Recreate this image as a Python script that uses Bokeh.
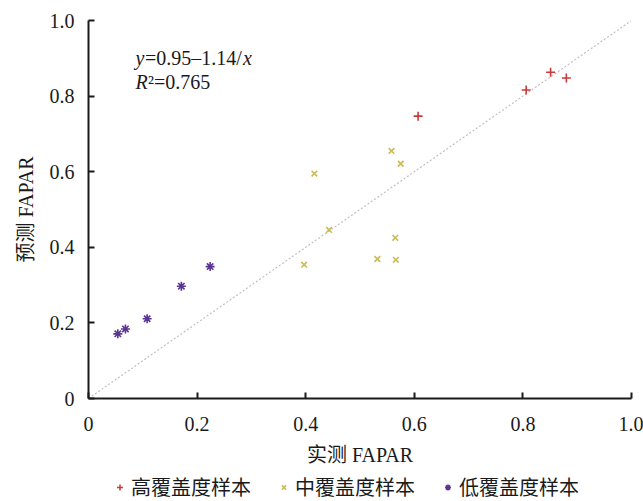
from bokeh.plotting import figure
from bokeh.models import Range1d, FixedTicker, Label, Legend, LegendItem
from bokeh.layouts import column
from bokeh.embed import file_html
from bokeh.resources import INLINE

# data
high_x = [0.607, 0.806, 0.851, 0.880]
high_y = [0.747, 0.816, 0.863, 0.848]
mid_x = [0.558, 0.575, 0.416, 0.443, 0.565, 0.532, 0.566, 0.397]
mid_y = [0.655, 0.621, 0.595, 0.446, 0.425, 0.369, 0.367, 0.354]
low_x = [0.054, 0.068, 0.108, 0.171, 0.224]
low_y = [0.171, 0.184, 0.211, 0.297, 0.349]
ref_line = [0.0, 1.0]
ticks = [0, 0.2, 0.4, 0.6, 0.8, 1.0]
series_names = ["高覆盖度样本", "中覆盖度样本", "低覆盖度样本"]
colors = ["#c83a3a", "#c9bb55", "#5b3592"]
markers = ["cross", "x", "asterisk"]
series_x = [high_x, mid_x, low_x]
series_y = [high_y, mid_y, low_y]

SERIF = "'Liberation Serif', 'Noto Sans CJK SC'"
TXT = "#1a1a1a"

p = figure(width=643, height=477, output_backend="svg", toolbar_location=None,
           x_range=Range1d(0, 1), y_range=Range1d(0, 1),
           min_border_left=88, min_border_right=12, min_border_top=20, min_border_bottom=79)
p.outline_line_color = None
p.grid.visible = False

for ax in (p.xaxis[0], p.yaxis[0]):
    ax.ticker = FixedTicker(ticks=ticks)
    ax.major_label_overrides = {0: "0", 1: "1.0"}
    ax.minor_tick_line_color = None
    ax.major_tick_in = 6
    ax.major_tick_out = 0
    ax.axis_line_width = 2
    ax.major_tick_line_width = 2
    ax.axis_line_color = TXT
    ax.major_tick_line_color = TXT
    ax.major_label_text_font = SERIF
    ax.major_label_text_font_size = "20px"
    ax.major_label_text_color = TXT
    ax.axis_label_text_font = SERIF
    ax.axis_label_text_font_size = "20px"
    ax.axis_label_text_font_style = "normal"
    ax.axis_label_text_color = TXT

p.xaxis.axis_label = "实测 FAPAR"
p.yaxis.axis_label = "预测 FAPAR"
p.xaxis.major_label_standoff = 18
p.xaxis.axis_label_standoff = 10
p.yaxis.major_label_standoff = 14
p.yaxis.axis_label_standoff = 10

p.line(ref_line, ref_line, line_color="#c8bcc4", line_width=1.2, line_dash="2 2")

sizes = [9, 8, 9]
widths = [1.6, 1.6, 1.6]
for sx, sy, c, m, s, w in zip(series_x, series_y, colors, markers, sizes, widths):
    p.scatter(sx, sy, marker=m, size=s, line_color=c, line_width=w)

# equation text
ex, ey1, ey2 = 0.0866, 0.9013, 0.8368
fs = "20px"
def lab(y, text, off, italic=False):
    p.add_layout(Label(x=ex, y=y, x_offset=off, text=text, text_font=SERIF,
                       text_font_style="italic" if italic else "normal",
                       text_font_size=fs, text_color=TXT, text_baseline="alphabetic"))
lab(ey1, "y", 0, True)
lab(ey1, "=0.95\u20131.14/", 9.5)
lab(ey1, "x", 9.5 + 98, True)
lab(ey2, "R", 0, True)
lab(ey2, "\u00b2=0.765", 12.5)

# legend strip below the chart (its range is set apart so the series points stay out of view)
lf = figure(width=643, height=24, output_backend="svg", toolbar_location=None,
            x_range=Range1d(5, 6), y_range=Range1d(5, 6),
            min_border=0, x_axis_location=None, y_axis_location=None)
lf.outline_line_color = None
lf.grid.visible = False
items = []
for name, sx, sy, c, m in zip(series_names, series_x, series_y, colors, markers):
    r = lf.scatter(sx, sy, marker=m, size=6, line_color=c, line_width=1.5)
    items.append(LegendItem(label=name, renderers=[r]))
legend = Legend(items=items, orientation="horizontal", location=(24, 0),
                label_text_font=SERIF, label_text_font_size="20px", label_text_color=TXT,
                glyph_width=15, glyph_height=24, label_standoff=4, spacing=17,
                label_width=128, padding=0, margin=0, border_line_color=None,
                background_fill_alpha=0)
lf.add_layout(legend, "center")

layout = column(p, lf, spacing=0)
open("out.html", "w").write(file_html(layout, INLINE))
